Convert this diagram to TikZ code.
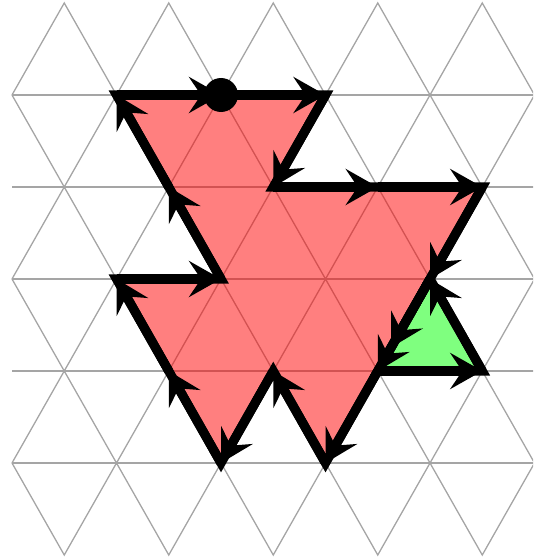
\documentclass[tikz,border=0pt]{standalone}
\usepackage{xcolor}
\usepackage{tikz}
\usetikzlibrary{arrows.meta}
\definecolor{gridgray}{RGB}{165,165,165}

\begin{document}
\begin{tikzpicture}[x=26.125pt, y=-46pt,
  gridline/.style={gridgray, line width=0.65pt},
  outline/.style={black, line width=4.6pt, line join=miter},
  walk/.style={outline, -{Stealth[length=16pt, width=18pt, inset=6pt]}}]
  % Frame
  \useasboundingbox (-0.2297,-0.0326) rectangle (9.9713,6.0543);
  \clip (-0.2297,-0.0326) rectangle (9.9713,6.0543);
  % Triangular grid
  \foreach \j in {0,...,5}
    \draw[gridline] (0,{\j+mod(\j+1,2)}) \foreach \m in {1,...,11} { -- (\m,{\j+mod(\m+\j+1,2)}) };
  \foreach \j in {1,...,5}
    \draw[gridline] (0,\j) -- (11,\j);
  % Lattice points of the walk
  \coordinate (a) at (2,1);
  \coordinate (b) at (4,1);
  \coordinate (c) at (6,1);
  \coordinate (d) at (5,2);
  \coordinate (e) at (7,2);
  \coordinate (f) at (9,2);
  \coordinate (g) at (8,3);
  \coordinate (h) at (7,4);
  \coordinate (i) at (6,5);
  \coordinate (j) at (5,4);
  \coordinate (k) at (4,5);
  \coordinate (l) at (3,4);
  \coordinate (m) at (2,3);
  \coordinate (n) at (4,3);
  \coordinate (o) at (3,2);
  \coordinate (p) at (9,4);
  % Red region
  \fill[red, opacity=.5] (a) -- (c) -- (d) -- (f) -- (i) -- (j) -- (k) -- (m) -- (n) -- cycle;
  \draw[outline] (a) -- (c) -- (d) -- (f) -- (i) -- (j) -- (k) -- (m) -- (n) -- cycle;
  % Green triangle
  \fill[green, opacity=.5] (h) -- (p) -- (g) -- cycle;
  \draw[outline] (h) -- (p) -- (g) -- cycle;
  % Arrow on every unit step
  \foreach \src/\dst in {a/b, b/c, c/d, d/e, e/f, f/g, g/h, h/i, i/j, j/k, k/l, l/m, m/n, n/o, o/a, h/p, p/g}
    \draw[walk] (\src) -- (\dst);
  \draw[walk, shorten >=13.5pt] (g) -- (h);
  % Start point
  \fill (b) circle (8.5pt);
\end{tikzpicture}
\end{document}
